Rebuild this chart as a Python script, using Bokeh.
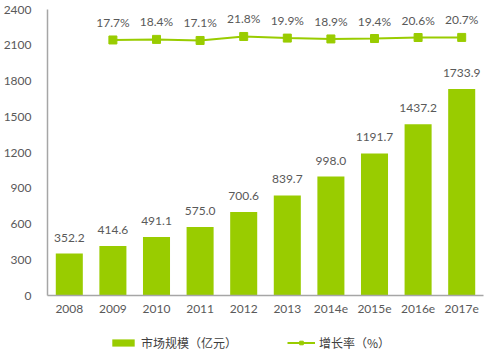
from bokeh.plotting import figure
from bokeh.layouts import column
from bokeh.models import ColumnDataSource, Range1d, FactorRange, Legend, LegendItem
from bokeh.core.properties import value
from bokeh.embed import file_html
from bokeh.resources import INLINE

years = ["2008", "2009", "2010", "2011", "2012", "2013", "2014e", "2015e", "2016e", "2017e"]
market = [352.2, 414.6, 491.1, 575.0, 700.6, 839.7, 998.0, 1191.7, 1437.2, 1733.9]
growth = [17.7, 18.4, 17.1, 21.8, 19.9, 18.9, 19.4, 20.6, 20.7]
growth_years = years[1:]
y_ticks = [0, 300, 600, 900, 1200, 1500, 1800, 2100, 2400]
legend_labels = ["市场规模（亿元）", "增长率（%）"]

BAR = "#99cc00"
TXT = "#595959"
FONT = "Lato"

src = ColumnDataSource(dict(x=years, y=market, lbl=["%.1f" % v for v in market]))
gsrc = ColumnDataSource(dict(x=growth_years, y=growth, lbl=["%.1f%%" % v for v in growth]))

p = figure(width=487, height=328, x_range=FactorRange(*years), y_range=Range1d(0, 2400),
           output_backend="svg", toolbar_location=None,
           min_border_left=40, min_border_right=4, min_border_top=9, min_border_bottom=33)
p.extra_y_ranges = {"rate": Range1d(-282.5, 53.5)}

p.vbar(x="x", top="y", width=0.62, source=src, fill_color=BAR, line_color=None)
p.text(x="x", y="y", text="lbl", source=src, text_align="center", text_baseline="bottom",
       y_offset=-12, text_font=value(FONT), text_font_size="12px", text_color=TXT)

p.line(x="x", y="y", source=gsrc, y_range_name="rate", line_color=BAR, line_width=2)
p.scatter(x="x", y="y", source=gsrc, y_range_name="rate", marker="square", size=8,
          fill_color=BAR, line_color=BAR)
p.text(x="x", y="y", text="lbl", source=gsrc, y_range_name="rate", text_align="center",
       text_baseline="bottom", y_offset=-10, text_font=value(FONT), text_font_size="12px",
       text_color=TXT)

p.xgrid.grid_line_color = None
p.ygrid.grid_line_color = None
p.outline_line_color = None

p.yaxis.ticker = y_ticks
for ax in (p.xaxis[0], p.yaxis[0]):
    ax.axis_line_color = "#a6a6a6"
    ax.axis_line_width = 1.5
    ax.major_tick_line_color = None
    ax.minor_tick_line_color = None
    ax.major_label_text_font = FONT
    ax.major_label_text_font_size = "12px"
    ax.major_label_text_color = TXT
p.yaxis.major_label_standoff = 10
p.xaxis.major_label_standoff = 3
p.x_range.range_padding = 0
p.x_range.group_padding = 0

# legend strip (its glyph renderers sit outside the visible range)
q = figure(width=487, height=28, output_backend="svg", toolbar_location=None,
           x_range=Range1d(0, 1), y_range=Range1d(0, 1),
           x_axis_location=None, y_axis_location=None,
           min_border_left=0, min_border_right=0, min_border_top=0, min_border_bottom=0)
q.outline_line_color = None
q.xgrid.grid_line_color = None
q.ygrid.grid_line_color = None
lb = q.vbar(x=[-5], top=[-5], width=0.6, fill_color=BAR, line_color=None)
ll = q.line(x=[-5, -4], y=[-5, -5], line_color=BAR, line_width=2)
ls = q.scatter(x=[-5], y=[-5], marker="square", size=8, fill_color=BAR, line_color=BAR)
legend = Legend(items=[LegendItem(label=legend_labels[0], renderers=[lb]),
                       LegendItem(label=legend_labels[1], renderers=[ll, ls])],
                location=(62, 0), orientation="horizontal", padding=0, margin=0,
                spacing=50, glyph_width=28, glyph_height=9, label_height=28,
                label_width=96, label_standoff=4, border_line_color=None,
                background_fill_alpha=0,
                label_text_font="Noto Sans CJK SC", label_text_font_size="12px",
                label_text_color="#404040")
q.add_layout(legend)

open("out.html", "w").write(file_html(column(p, q, spacing=0), INLINE))
